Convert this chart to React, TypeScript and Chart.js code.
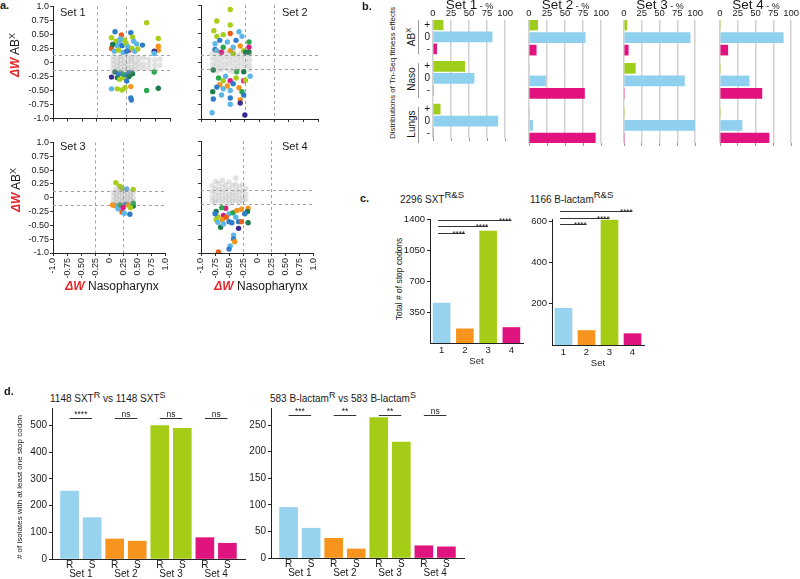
import React, { useEffect, useRef } from "react";
import { Chart, registerables } from "chart.js";

Chart.register(...registerables);

const FONT = "'Liberation Sans', Arial, Helvetica, sans-serif";
Chart.defaults.font.family = FONT;
Chart.defaults.color = "#1a1a1a";

// ================= Panel a data =================
const AXIS_TICKS = [-1, -0.75, -0.5, -0.25, 0, 0.25, 0.5, 0.75, 1];
const THRESH_X = [-0.25, 0.25];
const THRESH_Y = [-0.13, 0.13];

const set1X = [0.60, 0.06, 0.17, 0.33, 0.00, 0.80, 0.36, 0.43, 0.53, 0.80, 0.80, 0.73, 0.00, 0.30, 0.73, 0.08, 0.14, 0.22, 0.10, 0.18, 0.25, 0.28, 0.05, 0.12, 0.20, 0.35, 0.40, 0.02, 0.26, 0.15, 0.38, 0.45,
  0.00, 0.06, 0.10, 0.14, 0.20, 0.24, 0.30, 0.30, 0.18, 0.00, 0.10, 0.18, 0.23, 0.33, 0.73, 0.60, 0.80, 0.33, 0.34, 0.12, 0.36, 0.26];
const set1Y = [0.71, 0.55, 0.49, 0.53, 0.44, 0.43, 0.45, 0.33, 0.31, 0.29, 0.22, 0.20, 0.25, 0.22, 0.16, 0.38, 0.36, 0.40, 0.30, 0.30, 0.34, 0.28, 0.20, 0.22, 0.18, 0.25, 0.20, 0.32, 0.20, 0.42, 0.38, 0.24,
  -0.26, -0.17, -0.27, -0.30, -0.27, -0.22, -0.18, -0.25, -0.20, -0.47, -0.47, -0.49, -0.45, -0.43, -0.17, -0.50, -0.46, -0.63, -0.67, -0.20, -0.20, -0.33];
const set1C = ["L", "B", "R", "B", "L", "L", "L", "b", "B", "O", "O", "P", "R", "M", "b", "L", "b", "L", "b", "B", "L", "b", "b", "L", "b", "L", "b", "D", "B", "b", "b", "L",
  "P", "D", "D", "L", "L", "B", "B", "D", "G", "b", "L", "L", "L", "O", "G", "G", "D", "B", "B", "B", "D", "B"];

const set2X = [-0.50, -0.73, -0.50, -0.50, -0.35, -0.62, -0.73, -0.68, -0.76, -0.76, -0.62, -0.50, -0.45, -0.33, -0.27, -0.18, -0.18, -0.18, -0.24, -0.73, -0.65, -0.40, -0.55, -0.30, -0.78, -0.45,
  -0.79, -0.39, -0.27, -0.16, -0.62, -0.50, -0.27, -0.24, -0.68, -0.45, -0.80, -0.73, -0.62, -0.50, -0.35, -0.30, -0.79, -0.50, -0.33, -0.33, -0.50, -0.81, -0.25, -0.65, -0.27, -0.70, -0.58, -0.40, -0.55];
const set2Y = [0.92, 0.72, 0.65, 0.50, 0.53, 0.48, 0.45, 0.38, 0.32, 0.22, 0.26, 0.20, 0.26, 0.28, 0.20, 0.35, 0.26, 0.17, 0.17, 0.20, 0.17, 0.38, 0.35, 0.45, 0.55, 0.15,
  -0.14, -0.17, -0.17, -0.25, -0.33, -0.33, -0.33, -0.32, -0.40, -0.38, -0.52, -0.44, -0.47, -0.50, -0.45, -0.52, -0.65, -0.63, -0.66, -0.72, -0.74, -0.89, -0.93, -0.58, -0.58, -0.28, -0.25, -0.28, -0.42];
const set2C = ["L", "L", "L", "R", "b", "L", "L", "B", "b", "B", "G", "O", "b", "O", "L", "G", "M", "D", "D", "b", "M", "B", "b", "b", "L", "L",
  "D", "G", "D", "b", "L", "M", "M", "L", "O", "B", "D", "B", "b", "b", "O", "G", "B", "B", "O", "P", "b", "b", "P", "b", "B", "G", "b", "L", "O"];

const set3X = [0.12, 0.19, 0.23, 0.43, 0.31, 0.09, 0.14, 0.16, 0.23, 0.27, 0.37, 0.30, 0.34, 0.43, 0.43, 0.20, 0.06, 0.25, 0.38];
const set3Y = [0.27, 0.21, 0.17, 0.15, 0.16, -0.14, -0.15, -0.20, -0.26, -0.28, -0.30, -0.12, -0.13, -0.15, -0.10, -0.13, -0.13, -0.18, -0.18];
const set3C = ["L", "L", "L", "L", "b", "O", "b", "b", "R", "b", "B", "B", "O", "D", "G", "G", "O", "M", "L"];

const set4X = [-0.56, -0.73, -0.63, -0.50, -0.43, -0.36, -0.28, -0.16, -0.17, -0.73, -0.70, -0.65, -0.50, -0.45, -0.33, -0.33, -0.28, -0.16, -0.42, -0.42, -0.40, -0.48, -0.50, -0.69, -0.60, -0.70, -0.62, -0.55, -0.75, -0.60, -0.38, -0.22];
const set4Y = [-0.20, -0.26, -0.19, -0.30, -0.28, -0.24, -0.22, -0.20, -0.26, -0.40, -0.45, -0.54, -0.44, -0.46, -0.44, -0.56, -0.44, -0.46, -0.68, -0.75, -0.80, -0.875, -0.93, -0.98, -0.33, -0.35, -0.40, -0.36, -0.30, -0.48, -0.36, -0.30];
const set4C = ["M", "D", "G", "b", "G", "O", "O", "O", "D", "L", "b", "D", "B", "B", "B", "P", "R", "D", "b", "B", "O", "b", "B", "R", "M", "L", "O", "R", "B", "b", "b", "B"];

const set1Gray: [number, number][] = [
  [0.03, 0.11], [0.03, 0.04], [0.03, -0.03], [0.03, -0.10], [0.03, -0.17],
  [0.10, 0.09], [0.10, 0.01], [0.10, -0.06], [0.10, -0.13],
  [0.16, 0.12], [0.16, 0.05], [0.16, -0.02], [0.16, -0.09], [0.16, -0.16],
  [0.22, 0.08], [0.22, 0.00], [0.22, -0.07], [0.22, -0.14],
  [0.28, 0.11], [0.28, 0.03], [0.28, -0.05], [0.28, -0.12], [0.28, -0.19],
  [0.34, 0.09], [0.34, 0.02], [0.34, -0.08], [0.34, -0.15],
  [0.40, 0.10], [0.40, 0.01], [0.40, -0.06], [0.40, -0.13],
  [0.47, 0.07], [0.47, -0.01], [0.47, -0.09],
  [0.55, 0.08], [0.55, -0.03], [0.55, -0.11],
  [0.64, 0.06], [0.64, -0.02], [0.64, -0.10],
  [0.74, 0.05], [0.74, -0.04], [0.74, -0.12],
  [0.83, 0.06], [0.83, -0.05],
];
const set2Gray: [number, number][] = [
  [-0.80, 0.15], [-0.80, 0.06], [-0.80, -0.04], [-0.80, -0.12],
  [-0.73, 0.20], [-0.73, 0.10], [-0.73, 0.01], [-0.73, -0.08], [-0.73, -0.16],
  [-0.66, 0.13], [-0.66, 0.04], [-0.66, -0.05], [-0.66, -0.13],
  [-0.59, 0.18], [-0.59, 0.08], [-0.59, -0.02], [-0.59, -0.11],
  [-0.52, 0.14], [-0.52, 0.05], [-0.52, -0.04], [-0.52, -0.14],
  [-0.45, 0.19], [-0.45, 0.09], [-0.45, 0.00], [-0.45, -0.09], [-0.45, -0.17],
  [-0.38, 0.12], [-0.38, 0.03], [-0.38, -0.06], [-0.38, -0.14],
  [-0.31, 0.16], [-0.31, 0.07], [-0.31, -0.03], [-0.31, -0.12],
  [-0.24, 0.11], [-0.24, 0.02], [-0.24, -0.07],
  [-0.17, 0.13], [-0.17, 0.04], [-0.17, -0.05], [-0.17, -0.13],
];
const set3Gray: [number, number][] = [
  [0.08, 0.10], [0.08, 0.02], [0.08, -0.06],
  [0.13, 0.16], [0.13, 0.07], [0.13, -0.01], [0.13, -0.09],
  [0.18, 0.12], [0.18, 0.04], [0.18, -0.04], [0.18, -0.11],
  [0.23, 0.18], [0.23, 0.09], [0.23, 0.00], [0.23, -0.08],
  [0.28, 0.13], [0.28, 0.05], [0.28, -0.03], [0.28, -0.10],
  [0.33, 0.15], [0.33, 0.06], [0.33, -0.02], [0.33, -0.09],
  [0.38, 0.11], [0.38, 0.03], [0.38, -0.05],
  [0.43, 0.09], [0.43, 0.00], [0.43, -0.07],
];
const set4Gray: [number, number][] = [
  [-0.80, 0.20], [-0.80, 0.10], [-0.80, 0.00], [-0.80, -0.08],
  [-0.74, 0.28], [-0.74, 0.16], [-0.74, 0.06], [-0.74, -0.04], [-0.74, -0.11],
  [-0.68, 0.24], [-0.68, 0.13], [-0.68, 0.03], [-0.68, -0.06],
  [-0.62, 0.30], [-0.62, 0.18], [-0.62, 0.08], [-0.62, -0.02], [-0.62, -0.10],
  [-0.56, 0.22], [-0.56, 0.12], [-0.56, 0.02], [-0.56, -0.07],
  [-0.50, 0.27], [-0.50, 0.15], [-0.50, 0.05], [-0.50, -0.04], [-0.50, -0.12],
  [-0.44, 0.20], [-0.44, 0.09], [-0.44, 0.00], [-0.44, -0.08],
  [-0.38, 0.34], [-0.38, 0.23], [-0.38, 0.13], [-0.38, 0.03], [-0.38, -0.06],
  [-0.32, 0.18], [-0.32, 0.08], [-0.32, -0.02], [-0.32, -0.10],
  [-0.26, 0.22], [-0.26, 0.11], [-0.26, 0.01], [-0.26, -0.07],
  [-0.20, 0.15], [-0.20, 0.05], [-0.20, -0.04],
];

// ================= Panel b data =================
const bRows = ["+", "0", "-", "+", "0", "-", "+", "0", "-"];
const bPercentTicks = [0, 25, 50, 75, 100];
const bSet1 = [14, 82, 5, 44, 57, 0, 10, 90, 0];
const bSet2 = [12, 78, 10, 0, 23, 77, 0, 5, 92];
const bSet3 = [4, 93, 6, 16, 85, 0, 0, 100, 0];
const bSet4 = [0, 89, 11, 0, 41, 59, 0, 31, 69];

// ================= Panel c data =================
const cSets = ["1", "2", "3", "4"];
const cSxt = [450, 160, 1264, 175];
const cSxtTicks = [350, 700, 1050, 1400];
const cSxtSigLevels = [1242, 1321, 1389];
const cBlac = [178, 70, 605, 55];
const cBlacTicks = [200, 400, 600];
const cBlacSigLevels = [586, 614, 648];
const cSig = ["****", "****", "****"];

// ================= Panel d data =================
const dBars = ["R", "S", "R", "S", "R", "S", "R", "S"];
const dSets = ["Set 1", "Set 2", "Set 3", "Set 4"];
const dSxt = [255, 155, 75, 67, 500, 490, 80, 59];
const dSxtTicks = [0, 100, 200, 300, 400, 500];
const dSxtSig = ["****", "ns", "ns", "ns"];
const dSxtSigLevel = 527;
const dBlac = [95, 56, 37, 17, 264, 218, 23, 21];
const dBlacTicks = [0, 50, 100, 150, 200, 250];
const dBlacSig = ["***", "**", "**", "ns"];
const dBlacSigLevel = 269;

// ================= styles =================
const PAL: Record<string, string> = {
  L: "#a6ce1a", b: "#5db7e6", B: "#2f7dc8", D: "#1d7a4e", G: "#2aa84d",
  O: "#f4941c", R: "#ea5e1c", M: "#de1a83", P: "#3b2d8f",
};
const ROW_COLORS = ["#9fcd1c", "#8fd0ee", "#e2137f"];
const SET_COLORS = ["#97d2ee", "#f7941d", "#a5cd17", "#e0147f"];
const ROW_POS = [0, 1, 2, 3.45, 4.45, 5.45, 7, 8, 9];

type Box = { x1: number; y1: number; x2: number; y2: number; ml: number; mt: number; mr: number; mb: number };

const BASE = {
  responsive: false,
  animation: false,
  devicePixelRatio: 1,
  events: [] as string[],
  plugins: { legend: { display: false }, tooltip: { enabled: false }, title: { display: false } },
};

const fmtAxis = (v: number) => (v === 0 ? "0" : Math.abs(v) === 1 ? v.toFixed(1) : v.toFixed(2));

const thresholdPlugin = {
  id: "thresholds",
  beforeDatasetsDraw(chart: any) {
    const { ctx, chartArea: a, scales } = chart;
    const x = scales.x, y = scales.y;
    ctx.save();
    ctx.strokeStyle = "#a3a3a3";
    ctx.lineWidth = 1;
    ctx.setLineDash([3, 3]);
    THRESH_X.forEach((v) => {
      const px = Math.round(x.getPixelForValue(v)) + 0.5;
      ctx.beginPath(); ctx.moveTo(px, a.top); ctx.lineTo(px, a.bottom); ctx.stroke();
    });
    THRESH_Y.forEach((v) => {
      const py = Math.round(y.getPixelForValue(v)) + 0.5;
      ctx.beginPath(); ctx.moveTo(a.left, py); ctx.lineTo(a.right, py); ctx.stroke();
    });
    ctx.restore();
  },
};

function scatterConfig(xs: number[], ys: number[], cs: string[], gray: [number, number][], showX: boolean, showY: boolean, box: Box) {
  const axisCommon = {
    type: "linear", min: -1, max: 1, offset: false,
    afterBuildTicks: (s: any) => { s.ticks = AXIS_TICKS.map((v) => ({ value: v })); },
    grid: { drawOnChartArea: false, drawTicks: true, tickLength: 3, color: "#333", lineWidth: 1 },
    border: { display: true, color: "#222", width: 1 },
  };
  return {
    type: "scatter",
    data: {
      datasets: [
        { data: gray.map((p) => ({ x: p[0], y: p[1] })), backgroundColor: "rgba(150,150,150,0.28)", pointRadius: 2.7, borderWidth: 0 },
        { data: xs.map((x, i) => ({ x, y: ys[i] })), backgroundColor: cs.map((c) => PAL[c]), pointRadius: 2.7, borderWidth: 0 },
      ],
    },
    options: {
      ...BASE,
      layout: { padding: { left: 0, top: box.mt, right: box.mr, bottom: 0 } },
      scales: {
        x: {
          ...axisCommon,
          ticks: { display: showX, autoSkip: false, minRotation: 90, maxRotation: 90, font: { size: 9 }, padding: 2, callback: (v: number) => fmtAxis(v) },
          afterFit: (s: any) => { s.height = box.mb; },
        },
        y: {
          ...axisCommon,
          ticks: { display: showY, autoSkip: false, font: { size: 9 }, padding: 1, callback: (v: number) => fmtAxis(v) },
          afterFit: (s: any) => { s.width = box.ml; },
        },
      },
    },
    plugins: [thresholdPlugin],
  };
}

function bConfig(vals: number[], showRows: boolean, box: Box) {
  const tickSet = (s: any) => { s.ticks = bPercentTicks.map((v) => ({ value: v })); };
  return {
    type: "bar",
    data: {
      datasets: [{
        data: vals.map((v, i) => ({ x: v, y: ROW_POS[i] })),
        backgroundColor: vals.map((_, i) => ROW_COLORS[i % 3]),
        barThickness: 10, borderWidth: 0,
      }],
    },
    options: {
      ...BASE,
      indexAxis: "y",
      layout: { padding: { left: 0, top: 0, right: box.mr, bottom: 0 } },
      scales: {
        x: {
          type: "linear", position: "top", min: 0, max: 100, offset: false,
          afterBuildTicks: tickSet,
          ticks: { autoSkip: false, font: { size: 9.5 }, padding: 1, maxRotation: 0 },
          grid: { color: "#d2d2d2", lineWidth: 1.5, drawTicks: false },
          border: { display: false },
          afterFit: (s: any) => { s.height = box.mt; },
        },
        xb: {
          type: "linear", position: "bottom", min: 0, max: 100, offset: false,
          afterBuildTicks: tickSet,
          ticks: { display: false },
          grid: { drawOnChartArea: false, drawTicks: true, tickLength: 3, color: "#9a9a9a" },
          border: { display: false },
          afterFit: (s: any) => { s.height = box.mb; },
        },
        y: {
          type: "linear", min: -0.4, max: 9.4, reverse: true, offset: false,
          afterBuildTicks: (s: any) => { s.ticks = ROW_POS.map((v) => ({ value: v })); },
          ticks: { display: showRows, autoSkip: false, font: { size: 10 }, padding: 3, callback: (_v: number, i: number) => bRows[i] },
          grid: { display: false, drawTicks: false },
          border: { display: false },
          afterFit: (s: any) => { s.width = box.ml; },
        },
      },
    },
  };
}

type Sig = { a: number; b: number; level: number; text: string };
function sigPlugin(items: Sig[], align: "center" | "right", font: number, dy: number) {
  return {
    id: "sig",
    afterDatasetsDraw(chart: any) {
      const { ctx, scales } = chart;
      const x = scales.x, y = scales.y;
      ctx.save();
      ctx.strokeStyle = "#333";
      ctx.lineWidth = 1;
      ctx.fillStyle = "#222";
      ctx.font = `${font}px ${FONT}`;
      ctx.textAlign = align;
      ctx.textBaseline = "alphabetic";
      items.forEach((it) => {
        const x1 = x.getPixelForValue(it.a), x2 = x.getPixelForValue(it.b);
        const py = Math.round(y.getPixelForValue(it.level)) + 0.5;
        ctx.beginPath(); ctx.moveTo(x1, py); ctx.lineTo(x2, py); ctx.stroke();
        ctx.fillText(it.text, align === "right" ? x2 : (x1 + x2) / 2, py + dy);
      });
      ctx.restore();
    },
  };
}

function cConfig(vals: number[], ticks: number[], max: number, levels: number[], box: Box) {
  const sig: Sig[] = levels.map((lv, k) => ({ a: -0.15, b: k + 1, level: lv, text: cSig[k] }));
  return {
    type: "bar",
    data: { labels: cSets, datasets: [{ data: vals, backgroundColor: SET_COLORS, barThickness: 17, borderWidth: 0 }] },
    options: {
      ...BASE,
      layout: { padding: { left: 0, top: box.mt, right: box.mr, bottom: 0 } },
      scales: {
        x: {
          type: "category", offset: true,
          grid: { display: false, drawTicks: false },
          border: { display: true, color: "#222" },
          ticks: { font: { size: 9.5 }, padding: 2 },
          title: { display: true, text: "Set", font: { size: 9.5 }, padding: 0 },
          afterFit: (s: any) => { s.height = box.mb; },
        },
        y: {
          type: "linear", min: 0, max,
          afterBuildTicks: (s: any) => { s.ticks = ticks.map((v) => ({ value: v })); },
          grid: { drawOnChartArea: false, drawTicks: true, tickLength: 3, color: "#222" },
          border: { display: true, color: "#222" },
          ticks: { font: { size: 9.5 }, padding: 2, autoSkip: false, callback: (v: number) => String(v) },
          afterFit: (s: any) => { s.width = box.ml; },
        },
      },
    },
    plugins: [sigPlugin(sig, "right", 8, 2)],
  };
}

function dConfig(vals: number[], ticks: number[], max: number, sigTexts: string[], level: number, box: Box) {
  const sig: Sig[] = sigTexts.map((t, k) => ({ a: 2 * k, b: 2 * k + 1, level, text: t }));
  return {
    type: "bar",
    data: {
      datasets: [{
        data: vals.map((v, i) => ({ x: i, y: v })),
        backgroundColor: vals.map((_, i) => SET_COLORS[Math.floor(i / 2)]),
        barThickness: 18, borderWidth: 0,
      }],
    },
    options: {
      ...BASE,
      layout: { padding: { left: 0, top: box.mt, right: box.mr, bottom: 0 } },
      scales: {
        x: {
          type: "linear", position: "bottom", min: -0.78, max: 7.78, offset: false, weight: 0,
          afterBuildTicks: (s: any) => { s.ticks = dBars.map((_, i) => ({ value: i })); },
          ticks: { autoSkip: false, maxRotation: 0, font: { size: 10, lineHeight: 1 }, padding: 1, callback: (_v: number, i: number) => dBars[i] },
          grid: { display: false, drawTicks: false },
          border: { display: true, color: "#222" },
          afterFit: (s: any) => { s.height = 10; },
        },
        x2: {
          type: "linear", position: "bottom", min: -0.78, max: 7.78, offset: false, weight: 1,
          afterBuildTicks: (s: any) => { s.ticks = dSets.map((_, i) => ({ value: 2 * i + 0.5 })); },
          ticks: { autoSkip: false, maxRotation: 0, font: { size: 10, lineHeight: 1 }, padding: 0, callback: (_v: number, i: number) => dSets[i] },
          grid: { display: false, drawTicks: false },
          border: { display: false },
          afterFit: (s: any) => { s.height = box.mb - 10; },
        },
        y: {
          type: "linear", min: 0, max,
          afterBuildTicks: (s: any) => { s.ticks = ticks.map((v) => ({ value: v })); },
          grid: { drawOnChartArea: false, drawTicks: true, tickLength: 3, color: "#222" },
          border: { display: true, color: "#222" },
          ticks: { font: { size: 10 }, padding: 2, autoSkip: false, callback: (v: number) => String(v) },
          afterFit: (s: any) => { s.width = box.ml; },
        },
      },
    },
    plugins: [sigPlugin(sig, "center", 8.5, -1.5)],
  };
}

function ChartBox({ box, make }: { box: Box; make: () => any }) {
  const ref = useRef<HTMLCanvasElement>(null);
  useEffect(() => {
    const chart = new Chart(ref.current as HTMLCanvasElement, make());
    return () => chart.destroy();
  }, []);
  const w = box.x2 - box.x1 + box.ml + box.mr;
  const h = box.y2 - box.y1 + box.mt + box.mb;
  return (
    <canvas
      ref={ref}
      width={w}
      height={h}
      style={{ position: "absolute", left: box.x1 - box.ml, top: box.y1 - box.mt, width: w, height: h }}
    />
  );
}

function Txt({ x, y, size, bold, center, children }: { x: number; y: number; size: number; bold?: boolean; center?: boolean; children: any }) {
  return (
    <div style={{
      position: "absolute", left: x, top: y, fontSize: size, fontWeight: bold ? 700 : 400, lineHeight: 1,
      whiteSpace: "nowrap", transform: center ? "translateX(-50%)" : undefined,
    }}>{children}</div>
  );
}

function VTxt({ cx, cy, size, children }: { cx: number; cy: number; size: number; children: any }) {
  return (
    <div style={{
      position: "absolute", left: cx, top: cy, fontSize: size, lineHeight: 1, whiteSpace: "nowrap",
      transform: "translate(-50%,-50%) rotate(-90deg)",
    }}>{children}</div>
  );
}

const Sup = ({ children, scale = 0.75 }: { children: any; scale?: number }) => (
  <span style={{ fontSize: `${scale}em`, verticalAlign: "0.5em", lineHeight: 0 }}>{children}</span>
);
const DW = () => <span style={{ color: "#e4262b", fontStyle: "italic", fontWeight: 700 }}>ΔW</span>;

const BX: Box[] = [
  { x1: 433, y1: 20, x2: 506, y2: 143, ml: 14, mt: 20, mr: 8, mb: 4 },
  { x1: 529, y1: 20, x2: 602, y2: 143, ml: 8, mt: 20, mr: 8, mb: 4 },
  { x1: 624, y1: 20, x2: 696, y2: 143, ml: 8, mt: 20, mr: 8, mb: 4 },
  { x1: 720, y1: 20, x2: 792, y2: 143, ml: 8, mt: 20, mr: 8, mb: 4 },
];

export default function App() {
  const sA1: Box = { x1: 53, y1: 5, x2: 170, y2: 119, ml: 36, mt: 5, mr: 8, mb: 6 };
  const sA2: Box = { x1: 201, y1: 5, x2: 318, y2: 119, ml: 8, mt: 5, mr: 8, mb: 6 };
  const sA3: Box = { x1: 53, y1: 141, x2: 170, y2: 253, ml: 36, mt: 5, mr: 8, mb: 34 };
  const sA4: Box = { x1: 201, y1: 141, x2: 318, y2: 253, ml: 8, mt: 5, mr: 8, mb: 34 };
  const c1: Box = { x1: 430, y1: 219, x2: 523, y2: 343, ml: 30, mt: 16, mr: 8, mb: 24 };
  const c2: Box = { x1: 552, y1: 219, x2: 644, y2: 345, ml: 26, mt: 22, mr: 8, mb: 24 };
  const d1: Box = { x1: 52, y1: 408, x2: 245, y2: 559, ml: 30, mt: 12, mr: 6, mb: 20 };
  const d2: Box = { x1: 271, y1: 408, x2: 464, y2: 558, ml: 26, mt: 12, mr: 6, mb: 21 };
  const bVals = [bSet1, bSet2, bSet3, bSet4];

  return (
    <div style={{
      position: "fixed", left: 0, top: 0, width: 800, height: 579, overflow: "hidden",
      background: "#fff", fontFamily: FONT, color: "#1a1a1a",
    }}>
      {/* ---------- panel a ---------- */}
      <Txt x={0} y={0} size={11} bold>a.</Txt>
      <ChartBox box={sA1} make={() => scatterConfig(set1X, set1Y, set1C, set1Gray, false, true, sA1)} />
      <ChartBox box={sA2} make={() => scatterConfig(set2X, set2Y, set2C, set2Gray, false, false, sA2)} />
      <ChartBox box={sA3} make={() => scatterConfig(set3X, set3Y, set3C, set3Gray, true, true, sA3)} />
      <ChartBox box={sA4} make={() => scatterConfig(set4X, set4Y, set4C, set4Gray, true, false, sA4)} />
      <Txt x={60} y={7} size={11}>Set 1</Txt>
      <Txt x={282} y={7} size={11}>Set 2</Txt>
      <Txt x={60} y={141} size={11}>Set 3</Txt>
      <Txt x={282} y={141} size={11}>Set 4</Txt>
      <VTxt cx={15} cy={55} size={12}><DW /> AB<Sup>X</Sup></VTxt>
      <VTxt cx={16} cy={190} size={12}><DW /> AB<Sup>X</Sup></VTxt>
      <Txt x={112} y={280} size={12} center><DW /> Nasopharynx</Txt>
      <Txt x={261} y={280} size={12} center><DW /> Nasopharynx</Txt>

      {/* ---------- panel b ---------- */}
      <Txt x={362} y={1} size={11} bold>b.</Txt>
      <VTxt cx={393} cy={73} size={8}>Distributions of Tn-Seq fitness effects</VTxt>
      <VTxt cx={412} cy={37} size={10}>AB<Sup>X</Sup></VTxt>
      <VTxt cx={412} cy={79} size={10}>Naso</VTxt>
      <VTxt cx={412} cy={124} size={10}>Lungs</VTxt>
      <div style={{ position: "absolute", left: 418, top: 20, width: 1, height: 34, background: "#9a9a9a" }} />
      <div style={{ position: "absolute", left: 418, top: 63, width: 1, height: 35, background: "#9a9a9a" }} />
      <div style={{ position: "absolute", left: 418, top: 107, width: 1, height: 36, background: "#9a9a9a" }} />
      {BX.map((box, i) => (
        <React.Fragment key={i}>
          <ChartBox box={box} make={() => bConfig(bVals[i], i === 0, box)} />
          <Txt x={(box.x1 + box.x2) / 2} y={-2} size={13.5} center>
            Set {i + 1}<span style={{ fontSize: 9 }}> - %</span>
          </Txt>
        </React.Fragment>
      ))}

      {/* ---------- panel c ---------- */}
      <Txt x={360} y={193} size={11} bold>c.</Txt>
      <Txt x={400} y={195} size={10}>2296 SXT<Sup scale={0.95}>R&amp;S</Sup></Txt>
      <Txt x={530} y={195} size={10}>1166 B-lactam<Sup scale={0.95}>R&amp;S</Sup></Txt>
      <VTxt cx={399} cy={279} size={8.5}>Total # of stop codons</VTxt>
      <ChartBox box={c1} make={() => cConfig(cSxt, cSxtTicks, 1400, cSxtSigLevels, c1)} />
      <ChartBox box={c2} make={() => cConfig(cBlac, cBlacTicks, 610, cBlacSigLevels, c2)} />

      {/* ---------- panel d ---------- */}
      <Txt x={4} y={386} size={11} bold>d.</Txt>
      <Txt x={50} y={394} size={10}>1148 SXT<Sup scale={0.9}>R</Sup> vs 1148 SXT<Sup scale={0.9}>S</Sup></Txt>
      <Txt x={270} y={394} size={10}>583 B-lactam<Sup scale={0.9}>R</Sup> vs 583 B-lactam<Sup scale={0.9}>S</Sup></Txt>
      <VTxt cx={20} cy={487} size={8}># of isolates with at least one stop codon</VTxt>
      <ChartBox box={d1} make={() => dConfig(dSxt, dSxtTicks, 566, dSxtSig, dSxtSigLevel, d1)} />
      <ChartBox box={d2} make={() => dConfig(dBlac, dBlacTicks, 282, dBlacSig, dBlacSigLevel, d2)} />
    </div>
  );
}
